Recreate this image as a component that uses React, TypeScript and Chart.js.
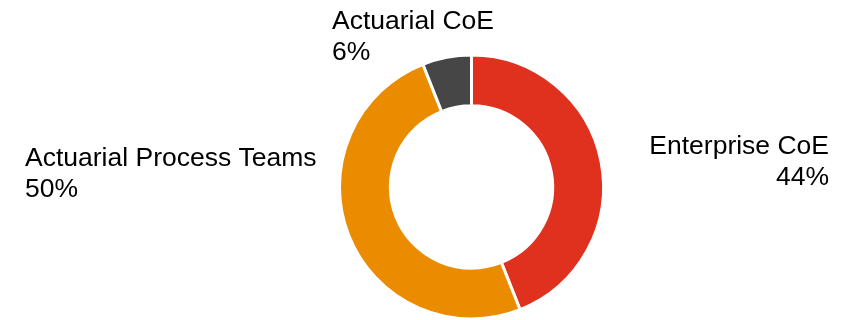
import React, { useEffect, useRef } from "react";
import { Chart, registerables } from "chart.js";

Chart.register(...registerables);

const categories = ["Enterprise CoE", "Actuarial Process Teams", "Actuarial CoE"];
const values = [44, 50, 6];
const colors = ["#E0301E", "#EB8C00", "#464646"];

// label placement: [x, baseline y of first line, alignment]
const labelPlacement: Array<[number, number, CanvasTextAlign]> = [
  [829, 154, "right"],
  [25, 166, "left"],
  [332, 29, "left"],
];

const labelPlugin = {
  id: "outerLabels",
  afterDraw(chart: any) {
    const ctx = chart.ctx;
    ctx.save();
    ctx.fillStyle = "#000000";
    ctx.font = '26.5px "Liberation Sans", Arial, sans-serif';
    ctx.textBaseline = "alphabetic";
    categories.forEach((c, i) => {
      const [x, y, align] = labelPlacement[i];
      ctx.textAlign = align;
      ctx.fillText(c, x, y);
      ctx.fillText(values[i] + "%", x, y + 30.5);
    });
    ctx.restore();
  },
};

export default function App() {
  const ref = useRef<HTMLCanvasElement>(null);
  useEffect(() => {
    if (!ref.current) return;
    const chart = new Chart(ref.current, {
      type: "doughnut",
      data: {
        labels: categories,
        datasets: [
          {
            data: values,
            backgroundColor: colors,
            borderColor: "#ffffff",
            borderWidth: 3,
          },
        ],
      },
      options: {
        responsive: false,
        animation: false,
        radius: 132,
        cutout: "61.5%",
        layout: { padding: { left: 99, right: 0, top: 54, bottom: 0 } },
        plugins: {
          legend: { display: false },
          tooltip: { enabled: false },
        },
      },
      plugins: [labelPlugin],
    });
    return () => chart.destroy();
  }, []);
  return (
    <div style={{ position: "absolute", left: 0, top: 0, width: 844, height: 320, background: "#fff" }}>
      <canvas ref={ref} width={844} height={320} style={{ display: "block" }} />
    </div>
  );
}
